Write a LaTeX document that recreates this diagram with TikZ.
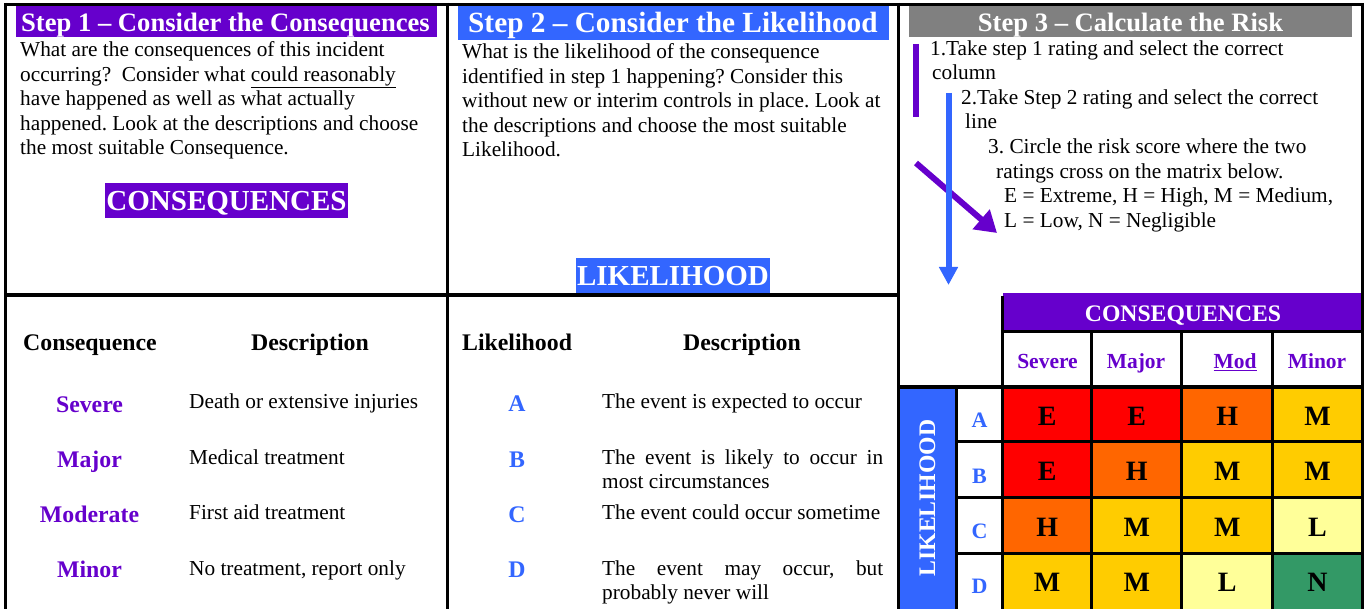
\documentclass[tikz,border=0pt]{standalone}
\usepackage{fontspec}
\setmainfont{Liberation Serif}
\usetikzlibrary{arrows.meta}
\definecolor{purp}{HTML}{6600CC}
\definecolor{blu}{HTML}{3366FF}
\definecolor{gry}{HTML}{808080}
\definecolor{cred}{HTML}{FF0000}
\definecolor{corg}{HTML}{FF6600}
\definecolor{camb}{HTML}{FFCC00}
\definecolor{cyel}{HTML}{FFFF99}
\definecolor{cgrn}{HTML}{339966}
\frenchspacing
\tikzset{
  body/.style={anchor=base west, inner sep=0pt, font=\fontsize{21.3pt}{24.5pt}\selectfont},
  hdtxt/.style={anchor=base west, inner sep=0pt, text=white, font=\bfseries\fontsize{#1}{#1}\selectfont},
  bigtag/.style={anchor=base, inner sep=0pt, text=white, font=\bfseries\fontsize{29pt}{29pt}\selectfont},
  colhead/.style={anchor=base, inner sep=0pt, font=\bfseries\fontsize{23.8pt}{24pt}\selectfont},
  cname/.style={anchor=base, inner sep=0pt, text=purp, font=\bfseries\fontsize{23.8pt}{24pt}\selectfont},
  lname/.style={anchor=base, inner sep=0pt, text=blu, font=\bfseries\fontsize{23.8pt}{24pt}\selectfont},
  mhead/.style={anchor=base, inner sep=0pt, text=purp, font=\bfseries\fontsize{21.5pt}{22pt}\selectfont},
  mrow/.style={anchor=base, inner sep=0pt, text=blu, font=\bfseries\fontsize{22pt}{22pt}\selectfont},
  cell/.style={anchor=base, inner sep=0pt, font=\bfseries\fontsize{28pt}{28pt}\selectfont},
  grid/.style={line width=3.3pt, black},
}
\begin{document}
\begin{tikzpicture}[x=1pt,y=-1pt]
\useasboundingbox (0,0) rectangle (1365,609);
\fill[white] (0,0) rectangle (1365,609);

% ---------- Step headers ----------
\fill[purp] (16,6) rectangle (437,37);
\node[hdtxt=26.6pt] (h1) at (21,32) {Step 1 -- Consider the Consequences};
\fill[blu] (458,6) rectangle (889,40);
\node[hdtxt=29.3pt] (h2) at (468,33) {Step 2 -- Consider the Likelihood};
\fill[gry] (909,6) rectangle (1352,37);
\node[hdtxt=26.6pt, anchor=base] (h3) at (1130.5,32) {Step 3 -- Calculate the Risk};

% ---------- Step 1 text ----------
\node[body] (t1a) at (20,57) {What are the consequences of this incident};
\node[body] (t1b) at (20,81.5) {occurring?\ \ Consider what \underline{could reasonably}};
\node[body] (t1c) at (20,106) {have happened as well as what actually};
\node[body] (t1d) at (20,130.5) {happened. Look at the descriptions and choose};
\node[body] (t1e) at (20,155) {the most suitable Consequence.};
\fill[purp] (105,183) rectangle (348,218);
\node[bigtag] (cons) at (226.5,211) {CONSEQUENCES};

% ---------- Step 2 text ----------
\node[body] (t2a) at (462,59) {What is the likelihood of the consequence};
\node[body] (t2b) at (462,83.5) {identified in step 1 happening? Consider this};
\node[body] (t2c) at (462,108) {without new or interim controls in place. Look at};
\node[body] (t2d) at (462,132.5) {the descriptions and choose the most suitable};
\node[body] (t2e) at (462,157) {Likelihood.};
\fill[blu] (576,258) rectangle (770,293);
\node[bigtag] (like) at (673,286) {LIKELIHOOD};

% ---------- Step 3 text ----------
\node[body] (t3a) at (930,56) {1.Take step 1 rating and select the correct};
\node[body] (t3b) at (932,80) {column};
\node[body] (t3c) at (961,105) {2.Take Step 2 rating and select the correct};
\node[body] (t3d) at (965,129) {line};
\node[body] (t3e) at (988,154) {3. Circle the risk score where the two};
\node[body] (t3f) at (996,178.5) {ratings cross on the matrix below.};
\node[body] (t3g) at (1004,203) {E = Extreme, H = High, M = Medium,};
\node[body] (t3h) at (1004,227.5) {L = Low, N = Negligible};

% arrows
\coordinate (pb1) at (916,44);
\coordinate (pb2) at (916,117);
\draw[purp, line width=6pt] (pb1) -- (pb2);
\coordinate (pa1) at (916,163);
\coordinate (pa2) at (997,233);
\draw[purp, line width=6pt, -{Triangle[length=21pt,width=25pt]}] (pa1) -- (pa2);
\coordinate (ba1) at (948.5,93);
\coordinate (ba2) at (948.5,285);
\draw[blu, line width=6pt, -{Triangle[length=18pt,width=18pt]}] (ba1) -- (ba2);

% ---------- Bottom tables ----------
\node[colhead, anchor=base west] (ch1) at (23,351) {Consequence};
\node[colhead] (ch2) at (310,351) {Description};
\node[cname] (cs) at (89.5,412) {Severe};
\node[cname] (cm) at (89.5,467) {Major};
\node[cname] (cmo) at (89.5,522) {Moderate};
\node[cname] (cmi) at (89.5,577) {Minor};
\node[body] (ds) at (189,408) {Death or extensive injuries};
\node[body] (dm) at (189,464) {Medical treatment};
\node[body] (dmo) at (189,519) {First aid treatment};
\node[body] (dmi) at (189,575) {No treatment, report only};

\node[colhead, anchor=base west] (lh1) at (462,351) {Likelihood};
\node[colhead] (lh2) at (742,351) {Description};
\node[lname] (la) at (517,411) {A};
\node[lname] (lb) at (517,467) {B};
\node[lname] (lc) at (517,522) {C};
\node[lname] (ld) at (517,577) {D};
\node[body] (da) at (602,408) {The event is expected to occur};
\node[body] (db1) at (602,464) {\makebox[281pt][s]{The event is likely to occur in}};
\node[body] (db2) at (602,488.5) {most circumstances};
\node[body] (dc) at (602,519) {The event could occur sometime};
\node[body] (dd1) at (602,575) {\makebox[281pt][s]{The event may occur, but}};
\node[body] (dd2) at (602,599.5) {probably never will};

% ---------- Matrix ----------
\fill[purp] (1002.7,293) rectangle (1362.3,331.7);
\node[anchor=base, inner sep=0pt, text=white, font=\bfseries\fontsize{23.7pt}{24pt}\selectfont] (mcons) at (1183,322) {CONSEQUENCES};
\node[mhead] (msev) at (1047.5,369) {Severe};
\node[mhead] (mmaj) at (1136,369) {Major};
\node[mhead] (mmod) at (1235,369) {\underline{Mod}};
\node[mhead] (mmin) at (1317,369) {Minor};

\fill[blu] (898.3,387) rectangle (956.7,609);
\node[rotate=90, inner sep=0pt, text=white, font=\bfseries\fontsize{23.7pt}{24pt}\selectfont] (mlike) at (927.5,498) {LIKELIHOOD};

% cells
\fill[cred] (1002.7,387) rectangle (1091.7,441.7);
\fill[cred] (1091.7,387) rectangle (1181.7,441.7);
\fill[corg] (1181.7,387) rectangle (1272.7,441.7);
\fill[camb] (1272.7,387) rectangle (1362.3,441.7);
\fill[cred] (1002.7,441.7) rectangle (1091.7,497.7);
\fill[corg] (1091.7,441.7) rectangle (1181.7,497.7);
\fill[camb] (1181.7,441.7) rectangle (1272.7,497.7);
\fill[camb] (1272.7,441.7) rectangle (1362.3,497.7);
\fill[corg] (1002.7,497.7) rectangle (1091.7,553.3);
\fill[camb] (1091.7,497.7) rectangle (1181.7,553.3);
\fill[camb] (1181.7,497.7) rectangle (1272.7,553.3);
\fill[cyel] (1272.7,497.7) rectangle (1362.3,553.3);
\fill[camb] (1002.7,553.3) rectangle (1091.7,609);
\fill[camb] (1091.7,553.3) rectangle (1181.7,609);
\fill[cyel] (1181.7,553.3) rectangle (1272.7,609);
\fill[cgrn] (1272.7,553.3) rectangle (1362.3,609);

\node[mrow] (ra) at (979.5,427) {A};
\node[mrow] (rb) at (979.5,483) {B};
\node[mrow] (rc) at (979.5,538) {C};
\node[mrow] (rd) at (979.5,593) {D};

\node[cell] (aa) at (1047.2,425) {E};
\node[cell] (ab) at (1136.7,425) {E};
\node[cell] (ac) at (1227.2,425) {H};
\node[cell] (ad) at (1317.5,425) {M};
\node[cell] (ba) at (1047.2,480) {E};
\node[cell] (bb) at (1136.7,480) {H};
\node[cell] (bc) at (1227.2,480) {M};
\node[cell] (bd) at (1317.5,480) {M};
\node[cell] (ca) at (1047.2,536) {H};
\node[cell] (cb) at (1136.7,536) {M};
\node[cell] (cc) at (1227.2,536) {M};
\node[cell] (cd) at (1317.5,536) {L};
\node[cell] (da2) at (1047.2,591) {M};
\node[cell] (db2x) at (1136.7,591) {M};
\node[cell] (dc2) at (1227.2,591) {L};
\node[cell] (dd2x) at (1317.5,591) {N};

% ---------- Grid lines ----------
\draw[grid] (5.5,4.7) -- (1362.5,4.7);
\draw[grid] (5.5,3) -- (5.5,609);
\draw[grid] (1362.5,3) -- (1362.5,609);
\draw[grid] (447.2,3) -- (447.2,609);
\draw[grid] (898.3,3) -- (898.3,609);
\draw[grid] (5.5,295) -- (898.3,295);
\draw[grid] (1002.7,296) -- (1002.7,609);
\draw[grid] (1002.7,331.7) -- (1362.3,331.7);
\draw[grid] (898.3,387) -- (1362.3,387);
\draw[grid] (1091.7,331.7) -- (1091.7,609);
\draw[grid] (1181.7,331.7) -- (1181.7,609);
\draw[grid] (1272.7,331.7) -- (1272.7,609);
\draw[grid] (956.7,387) -- (956.7,609);
\draw[grid] (956.7,441.7) -- (1362.3,441.7);
\draw[grid] (956.7,497.7) -- (1362.3,497.7);
\draw[grid] (956.7,553.3) -- (1362.3,553.3);
\end{tikzpicture}
\end{document}
